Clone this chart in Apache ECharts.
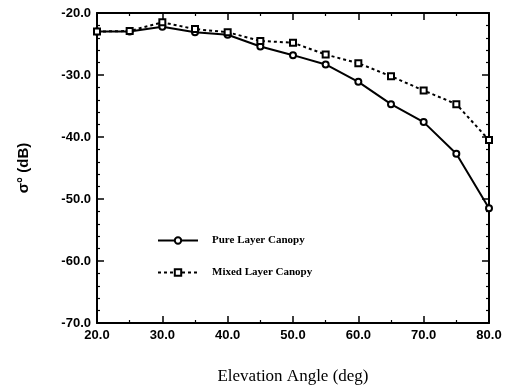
<!DOCTYPE html>
<html><head><meta charset="utf-8">
<script src="https://cdn.jsdelivr.net/npm/echarts@6/dist/echarts.min.js"></script>
<style>html,body{margin:0;padding:0;background:#fff}#c{width:510px;height:390px}</style>
</head><body><div id="c"></div>
<script>
const angles = [20, 25, 30, 35, 40, 45, 50, 55, 60, 65, 70, 75, 80];
const pureLayer = [-23.0, -23.0, -22.2, -23.1, -23.5, -25.4, -26.8, -28.3, -31.1, -34.7, -37.6, -42.7, -51.5];
const mixedLayer = [-23.0, -22.9, -21.5, -22.6, -23.1, -24.5, -24.8, -26.7, -28.1, -30.2, -32.5, -34.7, -40.5];
const seriesNames = ['Pure Layer Canopy', 'Mixed Layer Canopy'];

const chart = echarts.init(document.getElementById('c'));
const lbl = {fontFamily: 'Liberation Sans', fontWeight: 'bold', fontSize: 13, color: '#000'};
const axisBase = {
  axisLine: {show: true, lineStyle: {color: '#000', width: 2}},
  splitLine: {show: false},
  axisTick: {show: true, inside: true, length: 7, lineStyle: {color: '#000', width: 1.5}},
  minorTick: {show: true, splitNumber: 2, length: 3, lineStyle: {color: '#000', width: 1.2}}
};
chart.setOption({
  animation: false,
  grid: {left: 97, right: 21, top: 13, bottom: 66},
  legend: {
    orient: 'vertical', left: 152, top: 230, itemGap: 21, itemWidth: 40, itemHeight: 8,
    textStyle: {fontFamily: 'Liberation Serif', fontWeight: 'bold', fontSize: 11, color: '#000', padding: [0, 0, 0, 9]},
    data: seriesNames
  },
  xAxis: [
    Object.assign({}, axisBase, {type: 'value', min: 20, max: 80, interval: 10,
      minorTick: Object.assign({}, axisBase.minorTick, {splitNumber: 2}),
      axisLabel: Object.assign({}, lbl, {formatter: v => v.toFixed(1), margin: 6}),
      name: 'Elevation Angle (deg)', nameLocation: 'middle', nameGap: 45,
      nameTextStyle: {fontFamily: 'Liberation Serif', fontSize: 17, color: '#000'}}),
    Object.assign({}, axisBase, {type: 'value', position: 'top', min: 20, max: 80, interval: 10,
      minorTick: Object.assign({}, axisBase.minorTick, {splitNumber: 2}),
      axisLabel: {show: false}})
  ],
  yAxis: [
    Object.assign({}, axisBase, {type: 'value', min: -70, max: -20, interval: 10,
      minorTick: Object.assign({}, axisBase.minorTick, {splitNumber: 5}),
      axisLabel: Object.assign({}, lbl, {formatter: v => v.toFixed(1), margin: 6}),
      name: 'σ° (dB)', nameLocation: 'middle', nameGap: 66, nameRotate: 90,
      nameTextStyle: {fontFamily: 'Liberation Sans', fontWeight: 'bold', fontSize: 15, color: '#000'}}),
    Object.assign({}, axisBase, {type: 'value', position: 'right', min: -70, max: -20, interval: 10,
      minorTick: Object.assign({}, axisBase.minorTick, {splitNumber: 5}),
      axisLabel: {show: false}})
  ],
  series: [
    {name: seriesNames[0], type: 'line', data: angles.map((a, i) => [a, pureLayer[i]]),
     symbol: 'emptyCircle', symbolSize: 6,
     lineStyle: {color: '#000', width: 2, type: 'solid'},
     itemStyle: {color: '#000', borderColor: '#000', borderWidth: 1.5}},
    {name: seriesNames[1], type: 'line', data: angles.map((a, i) => [a, mixedLayer[i]]),
     symbol: 'emptyRect', symbolSize: 6,
     lineStyle: {color: '#000', width: 2, type: [3, 3]},
     itemStyle: {color: '#000', borderColor: '#000', borderWidth: 1.5}}
  ]
});
</script></body></html>
